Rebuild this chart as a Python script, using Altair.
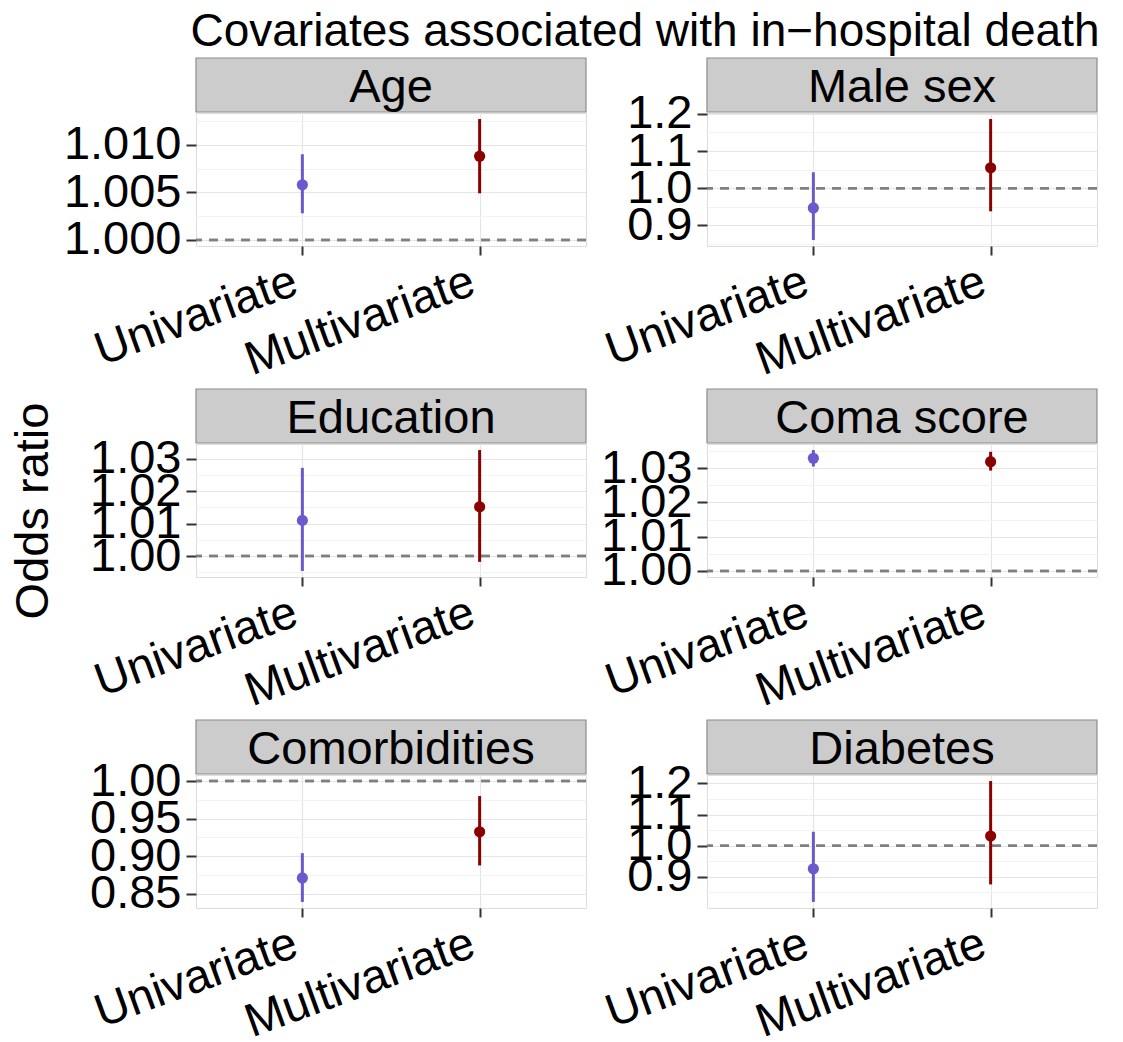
import altair as alt
import pandas as pd

FONT = "Liberation Sans"

title_text = "Covariates associated with in\u2212hospital death"
panels = ["Age", "Male sex", "Education", "Coma score", "Comorbidities", "Diabetes"]
models = ["Univariate", "Multivariate"]
model_colors = ["#6A5ACD", "#8B0000"]

or_uni = [1.0058, 0.947, 1.0110, 1.0329, 0.871, 0.9255]
lo_uni = [1.0028, 0.861, 0.9954, 1.0305, 0.839, 0.819]
hi_uni = [1.0090, 1.043, 1.0272, 1.0353, 0.904, 1.0447]
or_multi = [1.0088, 1.055, 1.0152, 1.0319, 0.9325, 1.031]
lo_multi = [1.0049, 0.938, 0.9982, 1.0293, 0.8876, 0.8754]
hi_multi = [1.0127, 1.186, 1.0327, 1.0348, 0.980, 1.2077]

major_ticks = [
    [1.000, 1.005, 1.010],
    [0.9, 1.0, 1.1, 1.2],
    [1.00, 1.01, 1.02, 1.03],
    [1.00, 1.01, 1.02, 1.03],
    [0.85, 0.90, 0.95, 1.00],
    [0.9, 1.0, 1.1, 1.2],
]
minor_ticks = [
    [1.0025, 1.0075, 1.0125],
    [0.85, 0.95, 1.05, 1.15],
    [0.995, 1.005, 1.015, 1.025],
    [1.005, 1.015, 1.025, 1.035],
    [0.875, 0.925, 0.975],
    [0.85, 0.95, 1.05, 1.15],
]
tick_formats = [".3f", ".1f", ".2f", ".2f", ".2f", ".1f"]
reference = 1.0

W, H, STRIP_H = 390, 133, 54
FS = 47
TITLE_FS = 46


def make_cell(i):
    df = pd.DataFrame({
        "model": models,
        "or": [or_uni[i], or_multi[i]],
        "lo": [lo_uni[i], lo_multi[i]],
        "hi": [hi_uni[i], hi_multi[i]],
    })
    lo = min(lo_uni[i], lo_multi[i], reference)
    hi = max(hi_uni[i], hi_multi[i], reference)
    pad = 0.05 * (hi - lo)
    yscale = alt.Scale(domain=[lo - pad, hi + pad], nice=False, zero=False)

    x_enc = alt.X(
        "model:N",
        sort=models,
        scale=alt.Scale(type="point", domain=models, padding=0.6),
        axis=alt.Axis(
            title=None, labelAngle=340, labelAlign="right", labelBaseline="top",
            labelFontSize=FS, labelFont=FONT, labelColor="black",
            labelLimit=1000, labelOverlap=False, labelOffset=-15,
            tickSize=9, tickWidth=2, tickColor="#333333", labelPadding=3,
            grid=True, gridColor="#E5E5E5", gridWidth=1.2, domain=False,
        ),
    )
    color_enc = alt.Color("model:N", scale=alt.Scale(domain=models, range=model_colors), legend=None)

    major_axis_kwargs = dict(
        values=major_ticks[i], format=tick_formats[i], orient="left",
        labelFontSize=FS, labelFont=FONT, labelColor="black",
        labelLimit=1000, labelOverlap=False,
        tickSize=10, tickWidth=2, tickColor="#333333", labelPadding=5,
        grid=True, gridColor="#E5E5E5", gridWidth=1.2, domain=False,
        minExtent=118, maxExtent=118, titlePadding=21,
        titleFontSize=FS, titleFont=FONT, titleFontWeight="normal", titleColor="black",
    )
    y_kwargs = {}
    if i == 2:
        y_kwargs["title"] = "Odds ratio"
    else:
        y_kwargs["title"] = None
    minor_axis = alt.Axis(
        values=minor_ticks[i], orient="right", labels=False, ticks=False, domain=False,
        grid=True, gridColor="#F3F3F3", gridWidth=1.2, title=None,
        minExtent=0, maxExtent=0,
    )

    base = alt.Chart(df)
    sbase = alt.Chart(pd.DataFrame({"name": [panels[i]]}))
    srect = sbase.mark_rect(fill="#CCCCCC", stroke="#8C8C8C", strokeWidth=1.2).encode(
        x=alt.value(0), x2=alt.value(W), y=alt.value(-STRIP_H - 1), y2=alt.value(-1)
    )
    stext = sbase.mark_text(fontSize=FS, font=FONT, baseline="alphabetic", align="center", color="black").encode(
        x=alt.value(W / 2), y=alt.value(-STRIP_H - 1 + 44), text="name:N"
    )
    hline = base.mark_rule(color="#7F7F7F", strokeWidth=2.5, strokeDash=[9, 7]).encode(
        y=alt.YDatum(reference, scale=yscale, axis=None),
    )
    bars = base.mark_rule(strokeWidth=3).encode(
        x=x_enc,
        y=alt.Y("lo:Q", scale=yscale, axis=minor_axis, title=None),
        y2="hi:Q",
        color=color_enc,
    )
    pts = base.mark_circle(size=125, opacity=1).encode(
        x=x_enc,
        y=alt.Y("or:Q", scale=yscale, axis=alt.Axis(**major_axis_kwargs), **y_kwargs),
        color=color_enc,
    )
    return alt.layer(srect, stext, hline, bars, pts).resolve_axis(y="independent").properties(width=W, height=H)


cells = [make_cell(i) for i in range(len(panels))]
grid = alt.concat(*cells, columns=2, spacing={"row": 3, "column": 0})

title_chart = alt.Chart(pd.DataFrame({"t": [title_text]})).mark_text(
    fontSize=TITLE_FS, font=FONT, align="center", baseline="alphabetic", color="black"
).encode(
    x=alt.value(449), y=alt.value(0.8 * TITLE_FS), text="t:N"
).properties(width=880, height=TITLE_FS, view=alt.ViewBackground(stroke="transparent"))

chart = alt.vconcat(title_chart, grid, spacing=0).properties(
    padding={"left": 0, "top": 0, "right": 0, "bottom": 0},
).configure_view(stroke="#7F7F7F", strokeWidth=1.5).configure(font=FONT)

chart.save("out.html", embed_options={"renderer": "svg", "actions": False})
